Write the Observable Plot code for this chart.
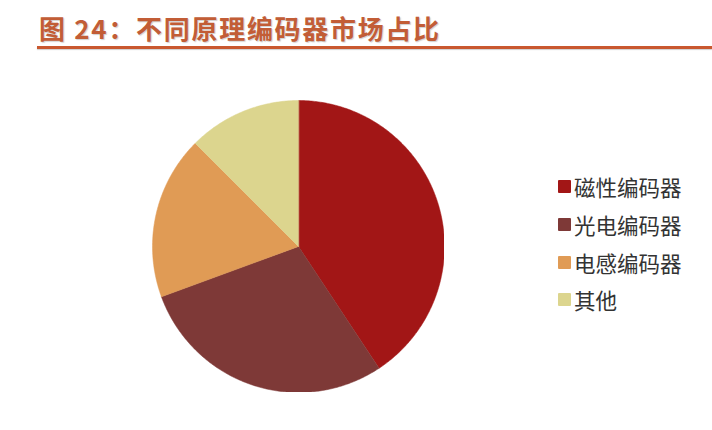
<!DOCTYPE html>
<html>
<head>
<meta charset="utf-8">
<script src="https://cdn.jsdelivr.net/npm/d3@7"></script>
<script src="https://cdn.jsdelivr.net/npm/@observablehq/plot@0.6"></script>
<style>
  html, body { margin: 0; padding: 0; background: #ffffff; }
  #wrap { position: relative; width: 712px; height: 430px; overflow: hidden; font-family: "Noto Sans CJK SC", "Noto Sans", sans-serif; }
  #title { position: absolute; left: 39px; top: 9px; font-size: 26px; font-weight: 700; color: #c25d36; letter-spacing: 1.7px; white-space: nowrap; text-shadow: 1px 1px 1px rgba(120,120,120,0.35); }
  #rule { position: absolute; left: 37px; top: 46px; width: 675px; height: 3px; background: #c9582f; box-shadow: 0 1px 1px rgba(120,120,120,0.35); }
  #chart { position: absolute; left: 152px; top: 100px; }
  #legend { position: absolute; left: 558px; top: 168px; }
  .row { position: relative; height: 37.7px; display: flex; align-items: center; font-size: 21.5px; color: #333; }
  .sw { width: 13px; height: 13px; margin-right: 3px; border-radius: 1px; }
</style>
</head>
<body>
<div id="wrap">
  <div id="title">图 24：不同原理编码器市场占比</div>
  <div id="rule"></div>
  <div id="chart"></div>
  <div id="legend"></div>
</div>
<script>
const categories = ["磁性编码器", "光电编码器", "电感编码器", "其他"];
const shares = [40.7, 28.7, 18.1, 12.5];
const colors = ["#a21616", "#7e3937", "#e09b55", "#dcd58e"];

const arcs = d3.pie().sort(null).value(d => d)(shares);
const features = arcs.map((a, i) => {
  const ring = [[0, 0]];
  const n = Math.max(2, Math.ceil((a.endAngle - a.startAngle) / 0.01));
  for (let k = 0; k <= n; k++) {
    const t = a.startAngle + (a.endAngle - a.startAngle) * k / n;
    ring.push([Math.sin(t), Math.cos(t)]);
  }
  ring.push([0, 0]);
  return { type: "Feature", properties: { name: categories[i] }, geometry: { type: "Polygon", coordinates: [ring] } };
});

const size = 292;
const chart = Plot.plot({
  width: size,
  height: size,
  margin: 0,
  projection: { type: "reflect-y", domain: { type: "MultiPoint", coordinates: [[-1, 0], [1, 0], [0, 1], [0, -1]] } },
  color: { domain: categories, range: colors },
  marks: [
    Plot.geo(features, { fill: d => d.properties.name, stroke: d => d.properties.name, strokeWidth: 0.5 })
  ]
});
document.getElementById("chart").appendChild(chart);

const legend = document.getElementById("legend");
categories.forEach((c, i) => {
  const row = document.createElement("div");
  row.className = "row";
  const sw = document.createElement("div");
  sw.className = "sw";
  sw.style.background = colors[i];
  const label = document.createElement("span");
  label.textContent = c;
  row.appendChild(sw);
  row.appendChild(label);
  legend.appendChild(row);
});
</script>
</body>
</html>
